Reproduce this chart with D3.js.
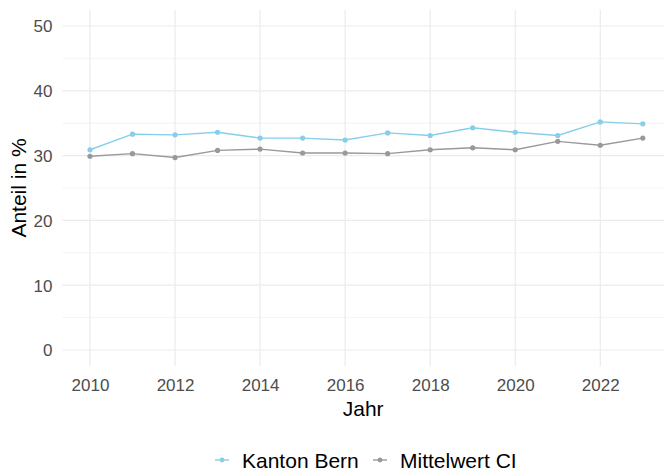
<!DOCTYPE html>
<html>
<head>
<meta charset="utf-8">
<script src="https://cdn.jsdelivr.net/npm/d3@7"></script>
<style>
  html, body { margin: 0; padding: 0; background: #fff; }
  svg { display: block; font-family: "Liberation Sans", Arial, sans-serif; }
</style>
</head>
<body>
<svg id="chart" width="664" height="470"></svg>
<script>
// Anteil in % pro Jahr
const years = [2010, 2011, 2012, 2013, 2014, 2015, 2016, 2017, 2018, 2019, 2020, 2021, 2022, 2023];
const kantonBern = [30.9, 33.3, 33.2, 33.6, 32.7, 32.7, 32.4, 33.5, 33.1, 34.3, 33.6, 33.1, 35.2, 34.9];
const mittelwertCI = [29.9, 30.3, 29.7, 30.8, 31.0, 30.4, 30.4, 30.3, 30.9, 31.2, 30.9, 32.2, 31.6, 32.7];
const seriesNames = ["Kanton Bern", "Mittelwert CI"];
const seriesColors = ["#87CEEB", "#999999"];
const xTicks = [2010, 2012, 2014, 2016, 2018, 2020, 2022];
const yTicks = [0, 10, 20, 30, 40, 50];
const yMinor = [5, 15, 25, 35, 45];

const svg = d3.select("#chart");

// panel with 5% expansion on both axes
const xPlot = [90, 642.8];
const yPlot = [350, 26];
const x = d3.scaleLinear().domain([2010, 2023]).range(xPlot);
const y = d3.scaleLinear().domain([0, 50]).range(yPlot);
const xPad = (xPlot[1] - xPlot[0]) * 0.05;
const yPad = (yPlot[0] - yPlot[1]) * 0.05;
const panel = { left: xPlot[0] - xPad, right: xPlot[1] + xPad, top: yPlot[1] - yPad, bottom: yPlot[0] + yPad };

const grid = svg.append("g");
grid.selectAll("line.minor").data(yMinor).join("line")
  .attr("x1", panel.left).attr("x2", panel.right)
  .attr("y1", d => y(d)).attr("y2", d => y(d))
  .attr("stroke", "#EBEBEB").attr("stroke-width", 0.6);
grid.selectAll("line.hmajor").data(yTicks).join("line")
  .attr("x1", panel.left).attr("x2", panel.right)
  .attr("y1", d => y(d)).attr("y2", d => y(d))
  .attr("stroke", "#EBEBEB").attr("stroke-width", 1.2);
grid.selectAll("line.vmajor").data(xTicks).join("line")
  .attr("x1", d => x(d)).attr("x2", d => x(d))
  .attr("y1", panel.top).attr("y2", panel.bottom)
  .attr("stroke", "#EBEBEB").attr("stroke-width", 1.2);

// axes (labels only)
const xAxis = svg.append("g")
  .attr("transform", `translate(0,${panel.bottom})`)
  .call(d3.axisBottom(x).tickValues(xTicks).tickFormat(d3.format("d")).tickSize(0).tickPadding(24));
const yAxis = svg.append("g")
  .attr("transform", `translate(${panel.left},0)`)
  .call(d3.axisLeft(y).tickValues(yTicks).tickSize(0).tickPadding(10));
[xAxis, yAxis].forEach(a => {
  a.select(".domain").remove();
  a.selectAll("text").attr("fill", "#4D4D4D").style("font-size", "17px")
    .style("font-family", '"Liberation Sans", Arial, sans-serif');
});
xAxis.selectAll("text").attr("dy", null).attr("y", 0).attr("dominant-baseline", null)
  .attr("transform", "translate(0,24.5)");
yAxis.selectAll("text").attr("dy", "0.35em");

// series
const series = [kantonBern, mittelwertCI].map((vals, i) => ({
  name: seriesNames[i], color: seriesColors[i],
  points: years.map((yr, j) => ({ year: yr, value: vals[j] }))
}));
const line = d3.line().x(d => x(d.year)).y(d => y(d.value));
const sg = svg.append("g").selectAll("g").data(series).join("g");
sg.append("path")
  .attr("d", d => line(d.points))
  .attr("fill", "none").attr("stroke", d => d.color).attr("stroke-width", 1.4);
sg.selectAll("circle").data(d => d.points.map(p => ({ ...p, color: d.color }))).join("circle")
  .attr("cx", d => x(d.year)).attr("cy", d => y(d.value)).attr("r", 2.6)
  .attr("fill", d => d.color);

// axis titles
svg.append("text")
  .attr("x", (panel.left + Math.min(panel.right, 664)) / 2).attr("y", 416)
  .attr("text-anchor", "middle").attr("fill", "#000").style("font-size", "21px")
  .text("Jahr");
svg.append("text")
  .attr("transform", `translate(26,${(panel.top + panel.bottom) / 2}) rotate(-90)`)
  .attr("text-anchor", "middle").attr("fill", "#000").style("font-size", "21px")
  .text("Anteil in %");

// legend
const legendX = [215, 373];
const lg = svg.append("g").selectAll("g").data(series).join("g")
  .attr("transform", (d, i) => `translate(${legendX[i]},460)`);
lg.append("line").attr("x1", 0).attr("x2", 14).attr("y1", 0).attr("y2", 0)
  .attr("stroke", d => d.color).attr("stroke-width", 1.4);
lg.append("circle").attr("cx", 7).attr("cy", 0).attr("r", 2.4).attr("fill", d => d.color);
lg.append("text").attr("x", 27).attr("y", 7.5).attr("fill", "#000").style("font-size", "21px")
  .text(d => d.name);
</script>
</body>
</html>
